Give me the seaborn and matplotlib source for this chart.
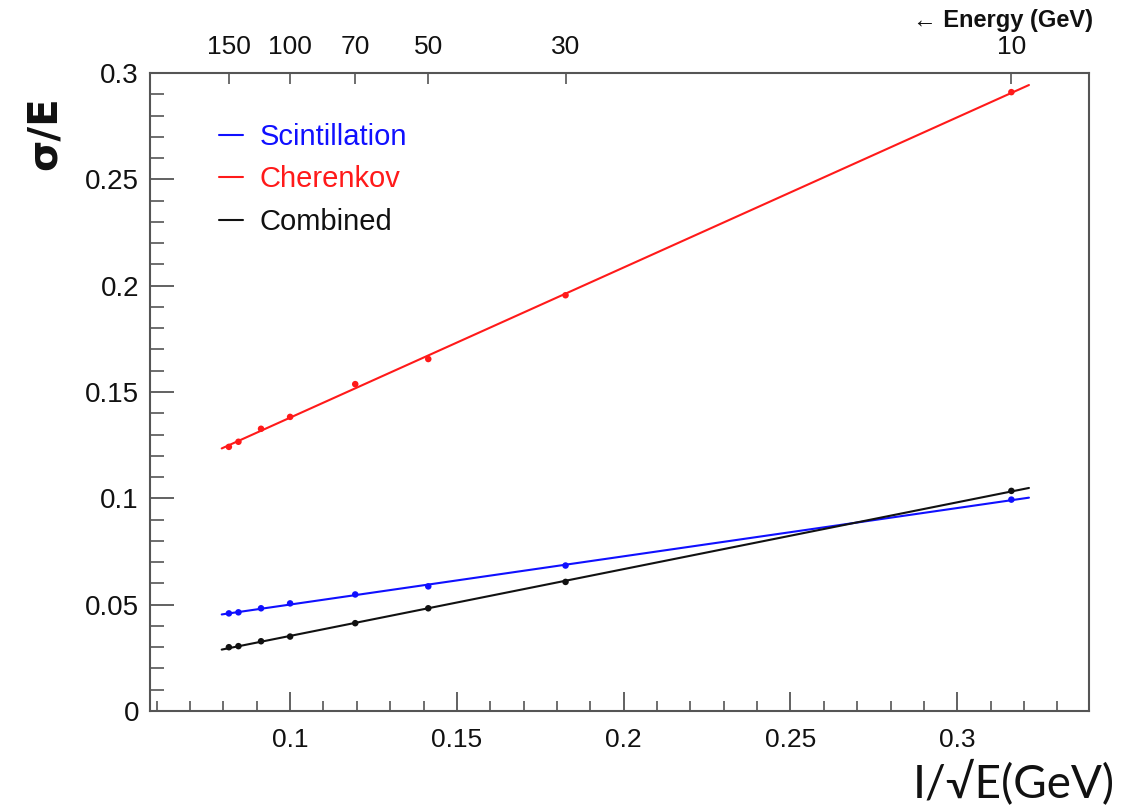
import numpy as np
import pandas as pd
import matplotlib
matplotlib.use("Agg")
import matplotlib.pyplot as plt
import seaborn as sns
from matplotlib.ticker import MultipleLocator

# ---------------- data ----------------
energies = [150, 140, 120, 100, 70, 50, 30, 10]          # GeV
scint = [0.0459, 0.0464, 0.0483, 0.0506, 0.0548, 0.0586, 0.0684, 0.0994]
cher = [0.1242, 0.1266, 0.1327, 0.1383, 0.1537, 0.1655, 0.1955, 0.2910]
comb = [0.0300, 0.0305, 0.0328, 0.0350, 0.0413, 0.0483, 0.0607, 0.1035]
series_names = ["Scintillation", "Cherenkov", "Combined"]
series_colors = ["#1010ff", "#ff1a1a", "#111111"]
fit_range = [0.0795, 0.3215]
top_energy_ticks = [150, 100, 70, 50, 30, 10]

sns.set_theme(style="white")
plt.rcParams["font.family"] = ["Liberation Sans", "DejaVu Sans"]

x = 1.0 / np.sqrt(np.array(energies, dtype=float))
frames = []
for name, vals in zip(series_names, [scint, cher, comb]):
    frames.append(pd.DataFrame({"x": x, "y": vals, "series": name}))
df = pd.concat(frames, ignore_index=True)

fig = plt.figure(figsize=(11.23, 8.10), dpi=100)
ax = fig.add_axes([150 / 1123, 1 - 711 / 810, (1089 - 150) / 1123, (711 - 73) / 810])

palette = dict(zip(series_names, series_colors))
sns.scatterplot(data=df, x="x", y="y", hue="series", palette=palette, ax=ax,
                s=22, edgecolor="none", legend=False, zorder=3)

xf = np.linspace(fit_range[0], fit_range[1], 50)
for name in series_names:
    sub = df[df.series == name]
    p = np.polyfit(sub.x, sub.y, 1)
    fit_df = pd.DataFrame({"x": xf, "y": np.polyval(p, xf)})
    sns.lineplot(data=fit_df, x="x", y="y", color=palette[name], lw=1.5, ax=ax,
                 label=name, zorder=2)

ax.set_xlim(0.058, 0.3395)
ax.set_ylim(0, 0.3)
ax.xaxis.set_major_locator(MultipleLocator(0.05))
ax.xaxis.set_minor_locator(MultipleLocator(0.01))
ax.yaxis.set_major_locator(MultipleLocator(0.05))
ax.yaxis.set_minor_locator(MultipleLocator(0.01))
ax.set_xticks([0.1, 0.15, 0.2, 0.25, 0.3])
ax.set_xticklabels(["0.1", "0.15", "0.2", "0.25", "0.3"])
ax.set_yticks([0, 0.05, 0.1, 0.15, 0.2, 0.25, 0.3])
ax.set_yticklabels(["0", "0.05", "0.1", "0.15", "0.2", "0.25", "0.3"])

spine_col = "#555555"
for s in ax.spines.values():
    s.set_color(spine_col)
    s.set_linewidth(1.5)
    s.set_visible(True)

ax.tick_params(axis="x", which="major", direction="in", length=13.5, width=1.3,
               color=spine_col, labelsize=19, labelcolor="#111111", pad=12,
               bottom=True, top=False)
ax.tick_params(axis="x", which="minor", direction="in", length=7, width=1.2,
               color=spine_col, bottom=True, top=False)
ax.tick_params(axis="y", which="major", direction="in", length=17, width=1.3,
               color=spine_col, labelsize=20, labelcolor="#111111", pad=8,
               left=True, right=False)
ax.tick_params(axis="y", which="minor", direction="in", length=10, width=1.2,
               color=spine_col, left=True, right=False)

ax.set_xlabel("")
ax.set_ylabel("")

# top energy axis
ax2 = ax.twiny()
ax2.set_xlim(ax.get_xlim())
ax2.set_xticks(1.0 / np.sqrt(np.array(top_energy_ticks, dtype=float)))
ax2.set_xticklabels([str(e) for e in top_energy_ticks])
ax2.tick_params(axis="x", which="major", direction="in", length=8, width=1.2,
                color=spine_col, labelsize=19, labelcolor="#111111", pad=10)
ax2.xaxis.set_minor_locator(plt.NullLocator())
for s in ax2.spines.values():
    s.set_visible(False)

fig.text(1093 / 1123, 1 - 20 / 810, "\u2190 Energy (GeV)", ha="right", va="center",
         fontsize=17, fontweight="bold", color="#111111")

# axis titles
fig.text(45 / 1123, 1 - 133 / 810, "\u03c3/E", rotation=90, ha="center", va="center",
         fontsize=29, fontweight="bold", family=["DejaVu Sans"], color="#111111")
fig.text(1115 / 1123, 1 - 782 / 810, "I/\u221aE(GeV)", ha="right", va="center",
         fontsize=33, family=["Lato", "DejaVu Sans"], color="#111111")

# legend
leg = ax.legend(loc="upper left", bbox_to_anchor=(0.045, 0.963), frameon=False,
                fontsize=21, handlelength=0.85, handletextpad=0.55, labelspacing=0.5)
for txt, c in zip(leg.get_texts(), series_colors):
    txt.set_color(c)

fig.savefig("out.png", dpi=100)
